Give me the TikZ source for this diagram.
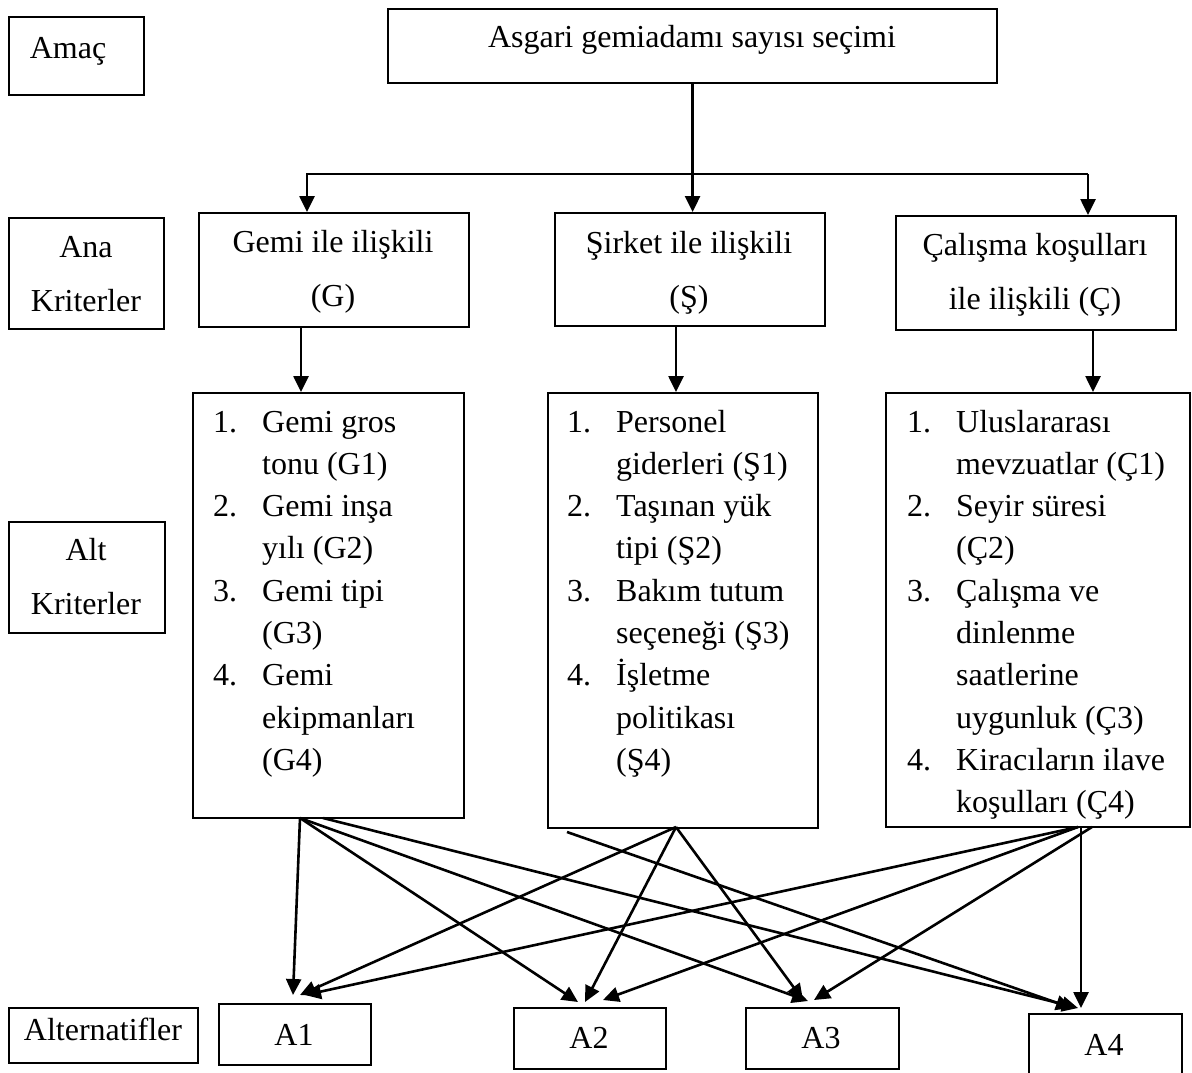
\documentclass[tikz,border=0pt]{standalone}
\usepackage{fontspec}
\setmainfont{Liberation Serif}
\usetikzlibrary{arrows.meta}
\begin{document}
\begin{tikzpicture}[x=1pt,y=-1pt,
  box/.style={draw, line width=2.2pt, inner sep=0pt, anchor=north west},
  lbl/.style={inner sep=0pt, anchor=base, font=\fontsize{32}{54}\selectfont},
  lst/.style={inner sep=0pt, anchor=base west, font=\fontsize{32}{42.3}\selectfont},
  link/.style={line width=2.6pt},
  arr/.style={line width=2.6pt, -{Triangle[length=16pt,width=15pt]}}]
\useasboundingbox (0,0) rectangle (1192,1072);

% boxes
\node[box, minimum width=135pt, minimum height=78pt] (amac) at (8,16) {};
\node[box, minimum width=609pt, minimum height=74pt] (goal) at (387,8) {};
\node[box, minimum width=155pt, minimum height=111pt] (ana) at (8,217) {};
\node[box, minimum width=270pt, minimum height=114pt] (gemi) at (198,212) {};
\node[box, minimum width=270pt, minimum height=113pt] (sirket) at (554,212) {};
\node[box, minimum width=280pt, minimum height=114pt] (calisma) at (895,215) {};
\node[box, minimum width=156pt, minimum height=111pt] (alt) at (8,521) {};
\node[box, minimum width=271pt, minimum height=425pt] (gsub) at (192,392) {};
\node[box, minimum width=270pt, minimum height=435pt] (ssub) at (547,392) {};
\node[box, minimum width=304pt, minimum height=434pt] (csub) at (885,392) {};
\node[box, minimum width=189pt, minimum height=55pt] (altern) at (8,1007) {};
\node[box, minimum width=152pt, minimum height=61pt] (a1) at (218,1003) {};
\node[box, minimum width=152pt, minimum height=61pt] (a2) at (513,1007) {};
\node[box, minimum width=153pt, minimum height=61pt] (a3) at (745,1007) {};
\node[box, minimum width=153pt, minimum height=65pt] (a4) at (1028,1013) {};

% texts
\node[lbl] (amac-t) at (68,58) {Amaç};
\node[lbl] (goal-t) at (692,47) {Asgari gemiadamı sayısı seçimi};
\node[lbl] (ana-t) at (86,257) {\begin{tabular}[t]{@{}c@{}}Ana\\Kriterler\end{tabular}};
\node[lbl] (gemi-t) at (333,252) {\begin{tabular}[t]{@{}c@{}}Gemi ile ilişkili\\(G)\end{tabular}};
\node[lbl] (sirket-t) at (689,253) {\begin{tabular}[t]{@{}c@{}}Şirket ile ilişkili\\(Ş)\end{tabular}};
\node[lbl] (calisma-t) at (1035,255) {\begin{tabular}[t]{@{}c@{}}Çalışma koşulları\\ile ilişkili (Ç)\end{tabular}};
\node[lbl] (alt-t) at (86,560) {\begin{tabular}[t]{@{}c@{}}Alt\\Kriterler\end{tabular}};
\node[lst] (gsub-t) at (213,432) {\begin{tabular}[t]{@{}p{49pt}@{}l@{}}
1. & Gemi gros\\ & tonu (G1)\\
2. & Gemi inşa\\ & yılı (G2)\\
3. & Gemi tipi\\ & (G3)\\
4. & Gemi\\ & ekipmanları\\ & (G4)\end{tabular}};
\node[lst] (ssub-t) at (567,432) {\begin{tabular}[t]{@{}p{49pt}@{}l@{}}
1. & Personel\\ & giderleri (Ş1)\\
2. & Taşınan yük\\ & tipi (Ş2)\\
3. & Bakım tutum\\ & seçeneği (Ş3)\\
4. & İşletme\\ & politikası\\ & (Ş4)\end{tabular}};
\node[lst] (csub-t) at (907,432) {\begin{tabular}[t]{@{}p{49pt}@{}l@{}}
1. & Uluslararası\\ & mevzuatlar (Ç1)\\
2. & Seyir süresi\\ & (Ç2)\\
3. & Çalışma ve\\ & dinlenme\\ & saatlerine\\ & uygunluk (Ç3)\\
4. & Kiracıların ilave\\ & koşulları (Ç4)\end{tabular}};
\node[lbl] (altern-t) at (103,1040) {Alternatifler};
\node[lbl] (a1-t) at (294,1045) {A1};
\node[lbl] (a2-t) at (589,1048) {A2};
\node[lbl] (a3-t) at (821,1048) {A3};
\node[lbl] (a4-t) at (1104,1055) {A4};

% top connectors
\coordinate (jl) at (307,174);
\coordinate (jr) at (1088,174);
\draw[arr] (goal.south) -- (sirket.north -| goal.south);
\draw[arr] (jr) -- (jl) -- (gemi.north -| jl);
\draw[arr] (jr) -- (calisma.north -| jr);

\coordinate (ga) at (301,0);
\coordinate (sa) at (676,0);
\coordinate (ca) at (1093,0);
\draw[arr] (gemi.south -| ga) -- (gsub.north -| ga);
\draw[arr] (sirket.south -| sa) -- (ssub.north -| sa);
\draw[arr] (calisma.south -| ca) -- (csub.north -| ca);

% bottom connectors
\coordinate (g1) at (300,818);
\coordinate (g2) at (323,818);
\coordinate (s1) at (676,827);
\coordinate (s2) at (567,832);
\coordinate (c1) at (1078,827);
\coordinate (c2) at (1092,827);
\coordinate (c3) at (1081,827);

\coordinate (a1-g) at (293,995);
\coordinate (a1-s) at (300,995);
\coordinate (a1-c) at (305,995);
\coordinate (a2-g) at (578,1002);
\coordinate (a2-s) at (585,1002);
\coordinate (a2-c) at (603,1000);
\coordinate (a3-g) at (808,1001);
\coordinate (a3-s) at (803,1000);
\coordinate (a3-c) at (814,1000);
\coordinate (a4-g) at (1078,1008);
\coordinate (a4-s) at (1072,1008);
\coordinate (a4-c) at (1081,1008);

\draw[arr] (g1) -- (a1-g);
\draw[arr] (g1) -- (a2-g);
\draw[arr] (g1) -- (a3-g);
\draw[arr] (g2) -- (a4-g);
\draw[arr] (s1) -- (a1-s);
\draw[arr] (s1) -- (a2-s);
\draw[arr] (s1) -- (a3-s);
\draw[arr] (s2) -- (a4-s);
\draw[arr] (c1) -- (a1-c);
\draw[arr] (c1) -- (a2-c);
\draw[arr] (c2) -- (a3-c);
\draw[arr] (c3) -- (a4-c);
\end{tikzpicture}
\end{document}
